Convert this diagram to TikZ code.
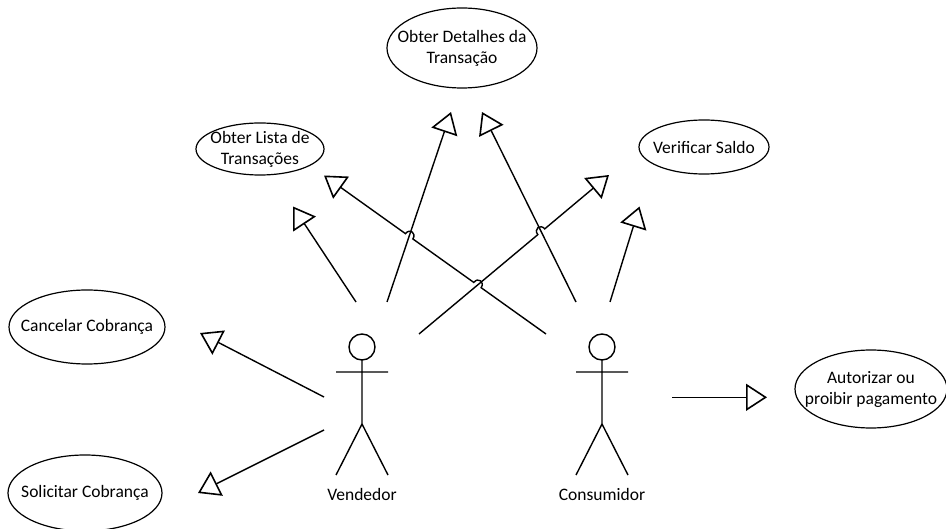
\documentclass[tikz,border=0pt]{standalone}
\usepackage{fontspec}
\setmainfont{Carlito}
\usetikzlibrary{arrows.meta,calc}

\tikzset{
  lbl/.style={font=\fontsize{17.5}{21}\selectfont, align=center, inner sep=0pt},
  ucline/.style={line width=1.4pt},
  assoc/.style={ucline, -{Triangle[open,length=21pt,width=27pt,line width=1.6pt]}},
  hopl/.style={bend left=90, looseness=2},
  hopr/.style={bend right=90, looseness=2},
  stickman/.pic={
    \draw[ucline] (0,0) circle[radius=13];
    \draw[ucline] (0,13) -- (0,77) (-26,25) -- (26,25)
                  (-26,128) -- (0,77) -- (26,128);
  }
}

% use case: name, centre, x radius, y radius, text
\newcommand\ucnode[5]{%
  \node[lbl] (#1) at (#2) {#5};
  \draw[line width=1.2pt] (#1.center) ellipse [x radius=#3, y radius=#4];
}

\begin{document}
\begin{tikzpicture}[x=1pt,y=-1pt]
\useasboundingbox (0,0) rectangle (946,529);

% use cases
\ucnode{det}{462,48}{75}{40}{Obter Detalhes da\\Transação}
\ucnode{lista}{260,149}{64}{26}{Obter Lista de\\Transações}
\ucnode{saldo}{704,147}{65}{27}{Verificar Saldo}
\ucnode{canc}{87,327}{78}{37}{Cancelar Cobrança}
\ucnode{solic}{85,493}{77}{38}{Solicitar Cobrança}
\ucnode{aut}{871,389}{76}{39}{Autorizar ou\\proibir pagamento}

% actors
\pic at (362,347) {stickman};
\node[lbl] (vend) at (362,494) {Vendedor};
\pic at (602,347) {stickman};
\node[lbl] (cons) at (602,494) {Consumidor};

% connector ends
\coordinate (s1) at (356,302);   \coordinate (t1) at (293,206.5);
\coordinate (s2) at (387,302);   \coordinate (t2) at (451,112);
\coordinate (s3) at (576,302);   \coordinate (t3) at (482,112);
\coordinate (s4) at (419,334);   \coordinate (t4) at (609,175);
\coordinate (s5) at (546,334);   \coordinate (t5) at (324,175.5);
\coordinate (s6) at (610,302);   \coordinate (t6) at (639.5,206.5);
\coordinate (s7) at (324,397);   \coordinate (t7) at (200,333);
\coordinate (s8) at (324,430);   \coordinate (t8) at (198,493);
\coordinate (s9) at (672,397.3); \coordinate (t9) at (767,397.3);

% crossings that get a line hop
\coordinate (x25) at (intersection of s2--t2 and s5--t5);
\coordinate (x45) at (intersection of s4--t4 and s5--t5);
\coordinate (x34) at (intersection of s3--t3 and s4--t4);

% connectors
\draw[assoc] (s1) -- (t1);
\draw[assoc] (s2) -- (t2);
\draw[assoc] (s3) -- (t3);
\draw[assoc] (s4) -- ($(x34)!4.5pt!(s4)$) to[hopl] ($(x34)!4.5pt!(t4)$) -- (t4);
\draw[assoc] (s5) -- ($(x45)!4.5pt!(s5)$) to[hopr] ($(x45)!4.5pt!(t5)$)
             -- ($(x25)!4.5pt!(s5)$) to[hopr] ($(x25)!4.5pt!(t5)$) -- (t5);
\draw[assoc] (s6) -- (t6);
\draw[assoc] (s7) -- (t7);
\draw[assoc] (s8) -- (t8);
\draw[assoc] (s9) -- (t9);
\end{tikzpicture}
\end{document}
